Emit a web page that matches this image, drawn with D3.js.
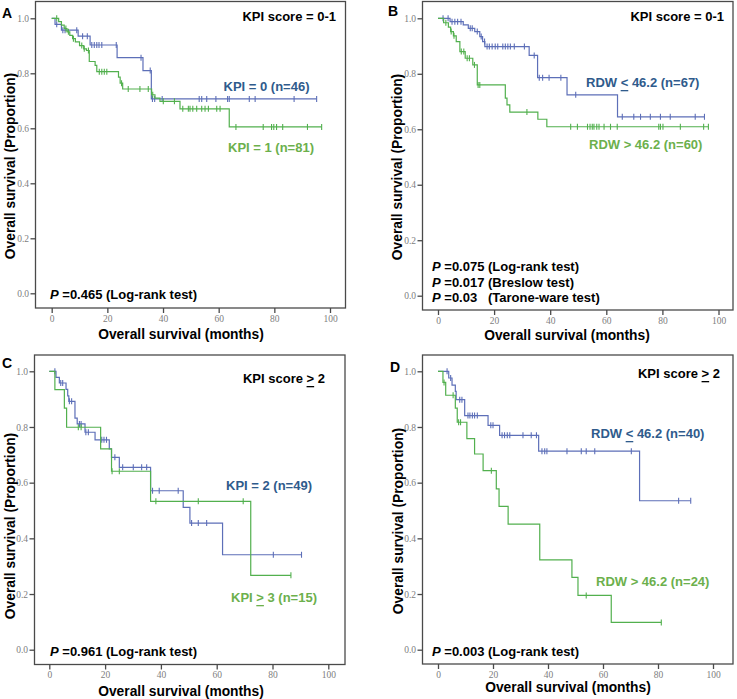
<!DOCTYPE html>
<html><head><meta charset="utf-8">
<script src="https://cdn.jsdelivr.net/npm/d3@7"></script>
<style>body{margin:0;background:#fff}svg{display:block}</style>
</head><body>
<svg id="c" width="737" height="699"></svg>
<script>
// ---------- DATA ----------
const xTicks = [0, 20, 40, 60, 80, 100];
const yTicks = [0, 0.2, 0.4, 0.6, 0.8, 1.0];

// Panel A : KPI score = 0-1, KPI = 0 vs KPI = 1
const aBlueSteps = [[1.2,0.978],[3.5,0.957],[9.5,0.935],[13.8,0.903],[23.5,0.857],[32.8,0.81],[35.8,0.707]];
const aBlueCensor = [1.8,4.0,4.8,9.0,11.1,12.8,14.4,15.3,16.2,17.0,18.0,23.2,32.1,35.4,36.2,37.0,39.7,53.0,53.9,55.7,59.0,63.2,63.8,71.0,73.1,87.1,95.2];
const aGreenSteps = [[2.5,0.988],[3.5,0.975],[4.5,0.963],[5.5,0.951],[6.5,0.938],[7.5,0.926],[8.5,0.914],[10,0.901],[11.5,0.889],[12.5,0.883],[13.5,0.843],[15.6,0.829],[16.2,0.806],[24,0.786],[24.6,0.764],[25.5,0.743],[35.9,0.722],[37.1,0.71],[38.9,0.698],[46.1,0.671],[63.8,0.605]];
const aGreenCensor = [1.8,5.1,6.0,7.8,10.8,11.7,13.2,17.1,18.0,18.9,19.8,25.1,27.5,31.7,34.7,36.3,40.1,44.1,47.1,49.1,49.7,50.7,52.1,53.9,55.1,56.3,59.3,60.5,66.2,76.0,79.0,79.8,80.8,83.0,91.9,97.0];

// Panel B : KPI score = 0-1, RDW <= 46.2 vs RDW > 46.2
const bBlueSteps = [[4.3,0.988],[9.0,0.976],[10.8,0.964],[13.1,0.952],[14.9,0.934],[15.9,0.916],[16.7,0.898],[32.5,0.866],[35.5,0.786],[46,0.724],[64,0.645]];
const bBlueCensor = [1.8,3.6,5.0,6.0,7.0,8.2,11.5,12.2,14.0,15.4,16.6,17.5,18.3,19.3,20.4,21.3,23.1,24.0,24.9,25.8,27.2,30.8,34.3,36.1,37.3,39.6,43.8,49.1,65.7,69.8,72.2,75.7,79.3,82.8,91.7,95.0];
const bGreenSteps = [[2.0,0.984],[3.7,0.968],[4.5,0.952],[5.5,0.937],[6.5,0.916],[7.8,0.88],[9.7,0.856],[12.4,0.832],[14.0,0.76],[24.0,0.712],[24.6,0.688],[25.6,0.662],[35.6,0.636],[38.8,0.609]];
const bGreenCensor = [2.8,4.7,5.7,8.3,9.2,10.4,11.2,13.0,14.3,14.9,31.7,47.3,49.7,53.3,54.2,55.0,55.6,56.6,57.4,59.2,61.5,63.9,78.7,79.3,80.2,86.4,94.7,96.4];

// Panel C : KPI score >= 2, KPI = 2 vs KPI >= 3
const cBlueSteps = [[2.4,0.978],[3.6,0.958],[6.0,0.935],[6.6,0.912],[7.0,0.892],[9.2,0.832],[10.0,0.811],[12.8,0.781],[16.4,0.754],[21.5,0.721],[22.3,0.691],[25.1,0.655],[36.3,0.571],[48.0,0.511],[50.4,0.455],[62.1,0.341]];
const cBlueCensor = [2.0,4.1,4.8,7.2,8.0,10.8,11.4,13.1,14.0,18.8,19.6,20.5,23.5,26.3,30.1,33.1,34.9,37.0,39.4,46.2,51.0,53.4,56.4,80.3,90.4];
const cGreenSteps = [[2.0,0.934],[5.4,0.868],[6.2,0.799],[18.4,0.721],[22.3,0.641],[36.3,0.533],[72.2,0.267]];
const cGreenCensor = [10.4,11.4,22.5,25.1,38.2,53.4,69.5,86.6];

// Panel D : KPI score >= 2, RDW <= 46.2 vs RDW > 46.2
const dBlueSteps = [[3.9,0.976],[5.1,0.95],[6.3,0.928],[6.6,0.898],[9.7,0.841],[18.2,0.806],[22.4,0.77],[36.6,0.713],[73.3,0.535]];
const dBlueCensor = [3.3,4.6,7.9,8.7,10.9,11.6,12.5,13.3,14.3,19.2,20.0,23.3,24.2,25.2,26.1,30.9,33.9,35.8,37.8,38.8,39.6,46.9,52.1,53.9,57.0,70.3,87.5,91.9];
const dGreenSteps = [[1.8,0.96],[2.8,0.914],[6.3,0.868],[7.0,0.817],[10.5,0.758],[13.3,0.703],[16.4,0.643],[21.2,0.578],[22.2,0.515],[25.5,0.451],[37.0,0.323],[48.7,0.26],[50.9,0.195],[63.0,0.098]];
const dGreenCensor = [2.2,5.5,7.5,8.2,19.4,53.9,81.2];

// ---------- STYLE / LAYOUT ----------
const BLUE_LINE = "#5d6fb8", GREEN_LINE = "#52b04e";
const BLUE_TXT = "#2f5b8c", GREEN_TXT = "#6cb04c";
const SANS = "'Liberation Sans', Arial, Helvetica, sans-serif";
const SERIF = "'Liberation Serif', 'Times New Roman', serif";

const svg = d3.select("#c");

function label(x, y, anchor, color, size, parts) {
  const t = svg.append("text").attr("x", x).attr("y", y)
    .attr("text-anchor", anchor).attr("dominant-baseline", "central")
    .attr("fill", color).attr("font-family", SANS).attr("font-weight", "bold")
    .attr("font-size", size).style("white-space", "pre");
  parts.forEach(p => {
    const s = t.append("tspan").text(p.t);
    if (p.u) s.attr("text-decoration", "underline");
    if (p.i) s.attr("font-style", "italic");
  });
  return t;
}

function panel(L, curves) {
  const g = svg.append("g");
  const x = d3.scaleLinear().domain([0, 100]).range(L.xr);
  const y = d3.scaleLinear().domain([0, 1]).range(L.yr);
  const [fx0, fy0, fx1, fy1] = L.frame;

  g.append("rect").attr("x", fx0).attr("y", fy0).attr("width", fx1 - fx0).attr("height", fy1 - fy0)
    .attr("fill", "none").attr("stroke", "#4a4a4a").attr("stroke-width", 1.3);

  const ya = g.append("g").attr("transform", `translate(${fx0},0)`)
    .call(d3.axisLeft(y).tickValues(yTicks).tickFormat(d3.format(".1f")).tickSize(5).tickPadding(1.5));
  const xa = g.append("g").attr("transform", `translate(0,${fy1})`)
    .call(d3.axisBottom(x).tickValues(xTicks).tickFormat(d3.format("d")).tickSize(5).tickPadding(2));
  [ya, xa].forEach(a => {
    a.select(".domain").remove();
    a.selectAll(".tick line").attr("stroke", "#4a4a4a").attr("stroke-width", 1.3);
    a.selectAll(".tick text").attr("fill", "#808080").attr("font-family", SERIF).attr("font-size", 9.5);
  });

  curves.forEach(c => {
    const last = c.steps[c.steps.length - 1];
    const endT = Math.max(last[0], d3.max(c.censor));
    const pts = [[0, 1]].concat(c.steps, [[endT, last[1]]]);
    const line = d3.line().x(d => x(d[0])).y(d => y(d[1])).curve(d3.curveStepAfter);
    g.append("path").attr("d", line(pts)).attr("fill", "none")
      .attr("stroke", c.color).attr("stroke-width", 1.2);
    const surv = t => { let s = 1; c.steps.forEach(p => { if (p[0] <= t) s = p[1]; }); return s; };
    g.selectAll(null).data(c.censor).enter().append("line")
      .attr("x1", d => x(d)).attr("x2", d => x(d))
      .attr("y1", d => y(surv(d)) - 3).attr("y2", d => y(surv(d)) + 3)
      .attr("stroke", c.color).attr("stroke-width", 1.1);
  });
}

// Panel layouts
panel({frame:[35.5,1.5,345.5,308], xr:[51.7,330], yr:[293.3,18.3]},
  [{steps:aBlueSteps, censor:aBlueCensor, color:BLUE_LINE},
   {steps:aGreenSteps, censor:aGreenCensor, color:GREEN_LINE}]);
panel({frame:[422.5,1.5,733,310], xr:[438,718.5], yr:[295.7,18.3]},
  [{steps:bBlueSteps, censor:bBlueCensor, color:BLUE_LINE},
   {steps:bGreenSteps, censor:bGreenCensor, color:GREEN_LINE}]);
panel({frame:[34.5,355,345,664.5], xr:[49.3,328.3], yr:[649.7,371.3]},
  [{steps:cBlueSteps, censor:cBlueCensor, color:BLUE_LINE},
   {steps:cGreenSteps, censor:cGreenCensor, color:GREEN_LINE}]);
panel({frame:[422.5,355,733,664], xr:[438,713], yr:[649.7,371.3]},
  [{steps:dBlueSteps, censor:dBlueCensor, color:BLUE_LINE},
   {steps:dGreenSteps, censor:dGreenCensor, color:GREEN_LINE}]);

// Panel letters
label(2, 13, "start", "#000", 14, [{t:"A"}]);
label(388, 11, "start", "#000", 14, [{t:"B"}]);
label(2, 363, "start", "#000", 14, [{t:"C"}]);
label(390, 367, "start", "#000", 14, [{t:"D"}]);

// Axis titles
const xTitle = "Overall survival (months)", yTitle = "Overall survival (Proportion)";
const TS = 13.8;
label(181, 334, "middle", "#000", TS, [{t:xTitle}]);
label(567, 335, "middle", "#000", TS, [{t:xTitle}]);
label(181, 691, "middle", "#000", TS, [{t:xTitle}]);
label(568, 687, "middle", "#000", TS, [{t:xTitle}]);
[[10,166],[397,167],[10,526],[398,521]].forEach(([cx, cy]) => {
  label(0, 0, "middle", "#000", TS, [{t:yTitle}])
    .attr("x", null).attr("y", null)
    .attr("transform", `translate(${cx},${cy}) rotate(-90)`);
});

// Annotations
const AS = 13;
label(336, 16, "end", "#000", AS, [{t:"KPI score = 0-1"}]);
label(223.5, 86, "start", BLUE_TXT, AS, [{t:"KPI = 0 (n=46)"}]);
label(228, 147, "start", GREEN_TXT, AS, [{t:"KPI = 1 (n=81)"}]);
label(50, 294, "start", "#000", AS, [{t:"P", i:true}, {t:" =0.465 (Log-rank test)"}]);

label(724, 16, "end", "#000", AS, [{t:"KPI score = 0-1"}]);
label(586, 82, "start", BLUE_TXT, AS, [{t:"RDW "}, {t:"<", u:true}, {t:" 46.2 (n=67)"}]);
label(589, 144, "start", GREEN_TXT, AS, [{t:"RDW > 46.2 (n=60)"}]);
label(432, 265.7, "start", "#000", AS, [{t:"P", i:true}, {t:" =0.075 (Log-rank test)"}]);
label(432, 281.7, "start", "#000", AS, [{t:"P", i:true}, {t:" =0.017 (Breslow test)"}]);
label(432, 296.7, "start", "#000", AS, [{t:"P", i:true}, {t:" =0.03   (Tarone-ware test)"}]);

label(325, 378, "end", "#000", AS, [{t:"KPI score "}, {t:">", u:true}, {t:" 2"}]);
label(226, 484.7, "start", BLUE_TXT, AS, [{t:"KPI = 2 (n=49)"}]);
label(231, 597, "start", GREEN_TXT, AS, [{t:"KPI "}, {t:">", u:true}, {t:" 3 (n=15)"}]);
label(50, 651.3, "start", "#000", AS, [{t:"P", i:true}, {t:" =0.961 (Log-rank test)"}]);

label(720, 373, "end", "#000", AS, [{t:"KPI score "}, {t:">", u:true}, {t:" 2"}]);
label(591, 433, "start", BLUE_TXT, AS, [{t:"RDW "}, {t:"<", u:true}, {t:" 46.2 (n=40)"}]);
label(596, 581.3, "start", GREEN_TXT, AS, [{t:"RDW > 46.2 (n=24)"}]);
label(432, 651.3, "start", "#000", AS, [{t:"P", i:true}, {t:" =0.003 (Log-rank test)"}]);
</script>
</body></html>
